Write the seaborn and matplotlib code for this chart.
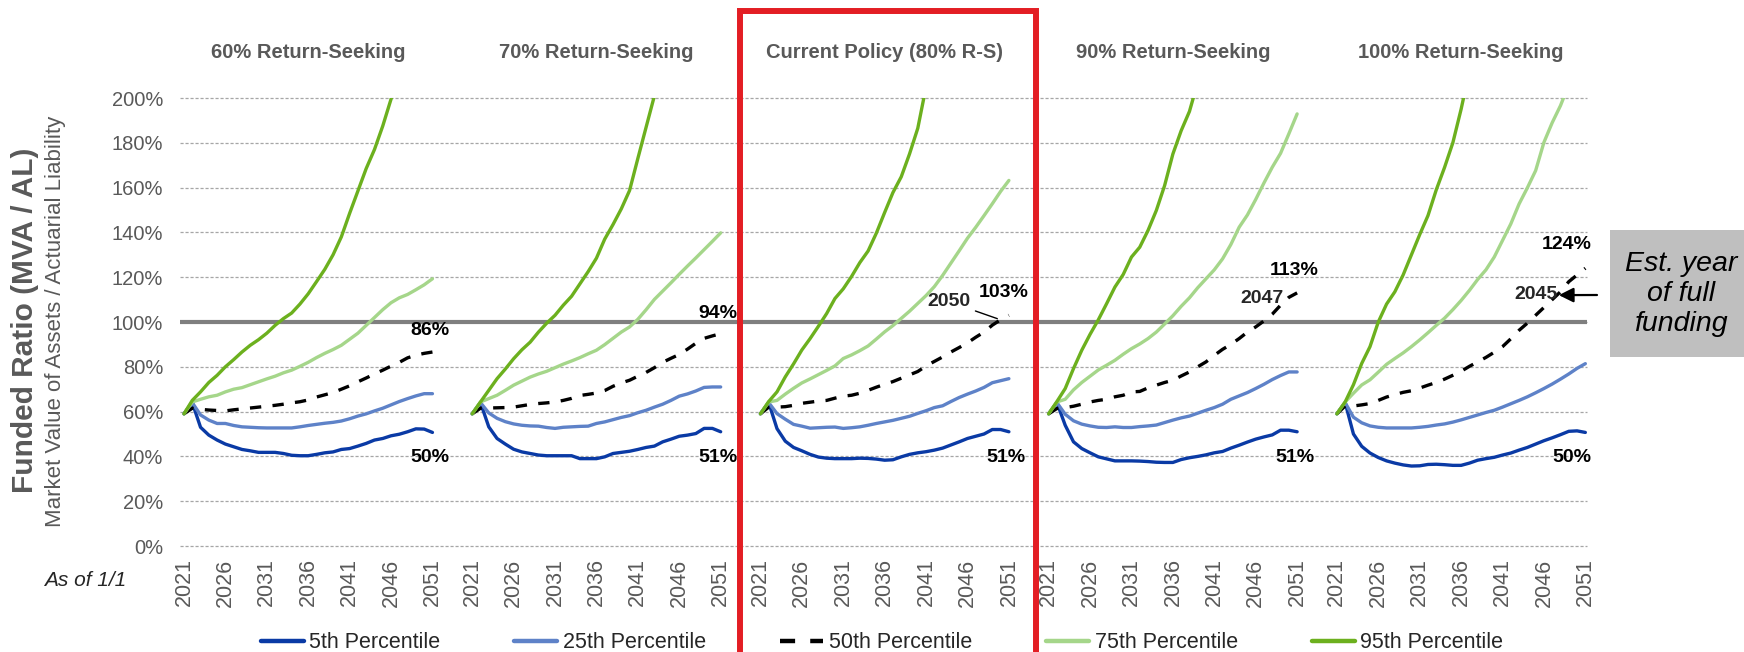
import matplotlib
matplotlib.use("Agg")
import matplotlib.pyplot as plt
from matplotlib.patches import Rectangle
import seaborn as sns
import pandas as pd

# ---- data (funded ratio, %) ----
years = list(range(2021, 2052))
panels = ["60% Return-Seeking", "70% Return-Seeking", "Current Policy (80% R-S)",
          "90% Return-Seeking", "100% Return-Seeking"]
percentiles = ["5th Percentile", "25th Percentile", "50th Percentile",
               "75th Percentile", "95th Percentile"]

rs60_5th = [59, 64, 53, 49.5, 47.3, 45.5, 44.3, 43.1, 42.5, 41.8, 41.8, 41.8, 41.3, 40.5, 40.3, 40.3,
            40.9, 41.6, 42, 43.1, 43.5, 44.6, 45.8, 47.3, 48, 49.2, 49.9, 51, 52.3, 52.2, 50.7]
rs60_25th = [59, 64, 58.5, 56.2, 54.7, 54.7, 53.8, 53.2, 53, 52.8, 52.7, 52.7, 52.7, 52.7, 53.2, 53.8,
             54.3, 54.8, 55.2, 55.8, 56.8, 58, 59, 60.3, 61.5, 63, 64.5, 65.8, 67, 68, 68]
rs60_50th = [59, 61.5, 61, 60.7, 60.5, 60.3, 60.8, 61.2, 61.6, 62, 62.4, 62.8, 63.3, 63.9, 64.4, 65.2,
             66.5, 67.5, 68.5, 70, 71.5, 73.3, 75, 76.8, 78.5, 80.3, 82, 84, 85.2, 86, 86.6]
rs60_75th = [59, 64.3, 65.5, 66.6, 67.3, 68.8, 70, 70.7, 72, 73.3, 74.6, 75.8, 77.3, 78.5, 80.2, 82,
             84.1, 86, 87.7, 89.6, 92.3, 95, 98.5, 102, 105.5, 108.6, 110.8, 112.3, 114.4, 116.6, 119.3]
rs60_95th = [59, 65, 68.8, 73, 76.2, 80, 83.2, 86.6, 89.6, 92.1, 95, 98.5, 101.5, 104, 108, 112.6,
             118, 123.5, 130, 138, 148.5, 158.5, 168.5, 177, 187.5, 199.5, 211, 223, 235, 247, 259]

rs70_5th = [59, 64, 53.2, 48, 45.5, 43.2, 42, 41.3, 40.6, 40.3, 40.3, 40.3, 40.3, 39, 39, 39,
            39.8, 41.3, 41.8, 42.3, 43.1, 44, 44.6, 46.5, 47.7, 49, 49.5, 50.2, 52.5, 52.5, 51]
rs70_25th = [59, 64, 59.4, 57, 55.5, 54.5, 53.9, 53.6, 53.5, 52.9, 52.5, 53, 53.2, 53.4, 53.5, 54.7,
             55.4, 56.4, 57.4, 58.2, 59.5, 60.6, 62, 63.3, 65, 66.9, 67.9, 69.2, 70.8, 71, 71]
rs70_50th = [59, 61.5, 61.6, 61.7, 61.8, 62, 62.6, 63.2, 63.6, 63.9, 64.3, 65, 65.9, 67.2, 67.7, 68.3,
             69.4, 71.3, 72.8, 74, 75.8, 77.5, 79.6, 82, 83.8, 85.5, 87.9, 90.5, 92.7, 93.8, 94.8]
rs70_75th = [59, 64.3, 65.8, 67.3, 69.5, 71.8, 73.6, 75.4, 76.8, 78, 79.6, 81.2, 82.6, 84.1, 85.8, 87.4,
             89.9, 92.7, 95.5, 97.8, 101.2, 105.5, 110.1, 113.8, 117.5, 121.3, 125, 128.6, 132.3, 136, 139.8]
rs70_95th = [59, 64.3, 69.5, 74.7, 79, 83.6, 87.6, 91, 95.5, 99.5, 103, 107.5, 111.5, 117, 122.5, 128.5,
             137, 143.5, 150.5, 158.7, 173, 187, 201, 215, 229, 243, 257, 271, 285, 299, 313]

rs80_5th = [59, 64, 52.4, 46.8, 44, 42.5, 40.9, 39.7, 39.2, 39, 39, 39, 39.2, 39.1, 38.8, 38.3,
            38.5, 39.8, 40.9, 41.6, 42.1, 42.8, 43.7, 45.1, 46.5, 48, 49, 50, 52, 52, 51]
rs80_25th = [59, 64, 59.1, 56.6, 54.3, 53.5, 52.6, 52.8, 53, 53.1, 52.5, 52.8, 53.2, 53.9, 54.7, 55.4,
             56.1, 57, 57.9, 59.2, 60.4, 61.8, 62.6, 64.5, 66.3, 67.8, 69.2, 70.8, 72.9, 73.8, 74.7]
rs80_50th = [59, 62, 62, 62.2, 62.8, 63.7, 64.2, 64.7, 65, 66, 66.9, 67.3, 68.2, 69.5, 70.9, 72.2,
             73.4, 74.9, 76.4, 77.9, 80.4, 82.4, 84.4, 86.6, 88.6, 90.7, 93.2, 95.5, 98.6, 101, 103]
rs80_75th = [59, 64.3, 65, 67.8, 70.4, 72.8, 74.6, 76.5, 78.4, 80.4, 83.7, 85.3, 87.2, 89.3, 92.4, 95.6,
             98.4, 101.6, 104.8, 108.3, 111.8, 115.8, 120.8, 126.3, 131.8, 137.4, 142.3, 147.5, 152.8, 158.3, 163.2]
rs80_95th = [59, 64.5, 68.8, 75.5, 81.3, 87.5, 92.6, 98.1, 103.8, 110.5, 114.8, 120.3, 126.5, 131.7, 139.7, 148.9,
             157.8, 164.8, 175, 186.5, 205, 221, 237, 253, 269, 285, 301, 317, 333, 349, 365]

rs90_5th = [59, 64, 53.9, 46.5, 43.5, 41.6, 39.8, 38.9, 38, 38, 38, 37.9, 37.7, 37.4, 37.3, 37.3,
            38.6, 39.4, 40, 40.7, 41.6, 42.2, 43.7, 45, 46.4, 47.7, 48.7, 49.6, 51.7, 51.7, 51]
rs90_25th = [59, 64, 58.8, 55.9, 54.4, 53.6, 53, 52.9, 53.2, 52.9, 52.9, 53.3, 53.6, 54, 55.1, 56.2,
             57.2, 58, 59.3, 60.6, 61.8, 63.3, 65.5, 67, 68.5, 70.3, 72.2, 74.3, 76.1, 77.7, 77.7]
rs90_50th = [59, 61.4, 61.8, 62.4, 63.3, 64.3, 65, 65.5, 66.6, 67.3, 68.8, 69, 70.6, 71.8, 73, 74,
             75.9, 77.7, 80, 82.2, 85.1, 87.8, 90, 92.6, 95.5, 97.8, 100.5, 103.5, 107.5, 111, 113]
rs90_75th = [59, 64.3, 65.5, 69.7, 73, 75.8, 78.6, 80.7, 82.9, 85.6, 88.1, 90.2, 92.6, 95.5, 99.1, 102.8,
             107, 110.8, 115.3, 119.3, 123.3, 128.2, 134.6, 142.3, 147.8, 154.7, 162.1, 169.1, 175.3, 184, 192.9]
rs90_95th = [59, 64.5, 70.3, 79.2, 87.4, 94.5, 101, 108.2, 115.6, 121.2, 129, 133.4, 140.9, 149.8, 160.9, 175,
             185.4, 194, 207, 221, 235, 249, 263, 277, 291, 305, 319, 333, 347, 361, 375]

rs100_5th = [59, 64, 50, 44.5, 41.5, 39.5, 38, 37, 36.2, 35.7, 35.8, 36.4, 36.5, 36.3, 36, 36,
             37, 38.3, 39, 39.6, 40.6, 41.5, 42.8, 44, 45.5, 47, 48.3, 49.7, 51.2, 51.4, 50.7]
rs100_25th = [59, 64, 57.5, 55, 53.6, 53, 52.7, 52.7, 52.7, 52.7, 53, 53.4, 54, 54.5, 55.3, 56.3,
              57.4, 58.5, 59.6, 60.6, 62, 63.5, 65, 66.6, 68.4, 70.3, 72.3, 74.5, 76.8, 79.3, 81.4]
rs100_50th = [59, 62.5, 62.5, 63, 63.6, 65, 66.5, 67.6, 68.6, 69.3, 70.5, 71.8, 73, 74.5, 76.2, 78,
              80.2, 82.2, 84.2, 86.5, 89, 92.5, 96.3, 99.5, 103, 106.5, 110, 113.5, 118, 121, 124]
rs100_75th = [59, 64.3, 68.2, 71.9, 74.2, 77.6, 81.1, 83.7, 86.2, 89, 92, 95.2, 98.5, 101.7, 105.5, 109.6,
              114.1, 119, 123.3, 129, 136.4, 143.8, 152.7, 159.9, 167.6, 180.2, 189, 196.6, 206, 215, 224]
rs100_95th = [59, 64.3, 72, 81.5, 89, 100, 108, 113.5, 121, 130, 139, 147.5, 159, 169, 180, 195,
              212, 230, 248, 266, 284, 302, 320, 338, 356, 374, 392, 410, 428, 446, 464]

end_top = ["86%", "94%", "103%", "113%", "124%"]
end_bottom = ["50%", "51%", "51%", "51%", "50%"]
tick_years = [2021, 2026, 2031, 2036, 2041, 2046, 2051]

series_by_panel = [
    [rs60_5th, rs60_25th, rs60_50th, rs60_75th, rs60_95th],
    [rs70_5th, rs70_25th, rs70_50th, rs70_75th, rs70_95th],
    [rs80_5th, rs80_25th, rs80_50th, rs80_75th, rs80_95th],
    [rs90_5th, rs90_25th, rs90_50th, rs90_75th, rs90_95th],
    [rs100_5th, rs100_25th, rs100_50th, rs100_75th, rs100_95th],
]

# panels sit side by side on one axis, separated by a few empty year slots
STEP = 34.8


def xpos(panel_idx, year):
    return panel_idx * STEP + (year - years[0])


rows = []
for p, (panel, group) in enumerate(zip(panels, series_by_panel)):
    for name, vals in zip(percentiles, group):
        for yr, v in zip(years, vals):
            rows.append({"panel": panel, "series": name, "year": yr,
                         "x": xpos(p, yr), "value": v})
df = pd.DataFrame(rows)

colors = {"5th Percentile": "#0A3AA5", "25th Percentile": "#5E82C8",
          "50th Percentile": "black", "75th Percentile": "#A5D68A",
          "95th Percentile": "#6CB01E"}
dash_map = {"5th Percentile": "", "25th Percentile": "",
            "50th Percentile": (3.4, 3.4), "75th Percentile": "",
            "95th Percentile": ""}

sns.set_style("white")
plt.rcParams["font.family"] = ["Liberation Sans", "DejaVu Sans"]

W, H = 1744, 652
fig = plt.figure(figsize=(W / 100, H / 100), dpi=100)
ax = fig.add_axes([180 / W, 106 / H, 1407 / W, 448 / H])

sns.lineplot(data=df, x="x", y="value", hue="series", style="series",
             units="panel", estimator=None, sort=False,
             hue_order=percentiles, style_order=percentiles,
             palette=colors, dashes=dash_map, linewidth=2.4, ax=ax)

ax.set_xlim(-0.48, 169.4)
ax.set_ylim(0, 200)
sns.despine(ax=ax, left=True, bottom=True)

ax.set_yticks(range(0, 201, 20))
ax.set_yticklabels([f"{v}%" for v in range(0, 201, 20)])
ax.yaxis.grid(True, linestyle=(0, (2.5, 1.5)), color="#A6A6A6", linewidth=0.9)
ax.xaxis.grid(False)
for gl in ax.get_ygridlines():
    gl.set_clip_on(False)
ax.axhline(100, color="#7F7F7F", linewidth=3, zorder=1.8)

xt = [xpos(p, y) for p in range(len(panels)) for y in tick_years]
ax.set_xticks(xt)
ax.set_xticklabels([str(y) for p in range(len(panels)) for y in tick_years], rotation=90)
ax.tick_params(axis="y", length=0, pad=12, labelsize=14.5, labelcolor="#595959")
ax.tick_params(axis="x", length=0, pad=9, labelsize=15.5, labelcolor="#595959")
ax.set_xlabel("")
ax.set_ylabel("")

# panel titles and end-of-line labels
top_off = [29.7, 29.7, 29.4, 29.7, 27.8]
top_y = [96, 104, 113, 123, 134.4]
bot_off = [29.7, 29.7, 29.6, 29.7, 28.4]
for p, title in enumerate(panels):
    ax.text(xpos(p, 2036), 220.5, title, ha="center", va="center",
            fontsize=14.5, fontweight="bold", color="#595959", clip_on=False)
    ax.text(p * STEP + top_off[p], top_y[p], end_top[p], ha="center", va="center",
            fontsize=14, fontweight="bold", color="black")
    ax.text(p * STEP + bot_off[p], 39.3, end_bottom[p], ha="center", va="center",
            fontsize=14, fontweight="bold", color="black")

# estimated years of full funding
ax.annotate("2050", xy=(xpos(2, 2049.6), 101.5), xytext=(xpos(2, 2043.8), 109),
            ha="center", va="center", fontsize=14, fontweight="bold",
            arrowprops=dict(arrowstyle="-", color="black", lw=1,
                            shrinkA=1, shrinkB=0))
ax.text(xpos(3, 2046.7), 110.7, "2047", ha="center", va="center",
        fontsize=14, fontweight="bold")
ax.text(xpos(4, 2045.0), 112.3, "2045", ha="center", va="center",
        fontsize=14, fontweight="bold")
ax.annotate("", xy=(xpos(4, 2047.8), 112), xytext=(1597 / W, 1 - 295 / H),
            textcoords="figure fraction", annotation_clip=False,
            arrowprops=dict(arrowstyle="-|>", color="black", lw=1.6,
                            mutation_scale=22, shrinkA=0, shrinkB=0))

fig.add_artist(Rectangle((1610 / W, 1 - 357 / H), 140 / W, 127 / H,
                         transform=fig.transFigure, facecolor="#BFBFBF",
                         edgecolor="none"))
fig.text(1681 / W, 1 - 294 / H, "Est. year\nof full\nfunding", ha="center",
         va="center", fontsize=20.5, style="italic", linespacing=1.2, color="black")

# highlight current policy
fig.add_artist(Rectangle((739.5 / W, -0.05), 296 / W, 1.05 - 11 / H,
                         transform=fig.transFigure, fill=False,
                         edgecolor="#E31E24", linewidth=4.3, clip_on=False))

# axis titles
fig.text(25 / W, 1 - 320 / H, "Funded Ratio (MVA / AL)", rotation=90,
         ha="center", va="center", fontsize=21.5, fontweight="bold", color="#595959")
fig.text(55 / W, 1 - 321 / H, "Market Value of Assets / Actuarial Liability",
         rotation=90, ha="center", va="center", fontsize=16, color="#595959")
fig.text(85 / W, 1 - 580 / H, "As of 1/1", ha="center", va="center",
         fontsize=15, style="italic", color="#262626")

# legend along the bottom
handles, labels = ax.get_legend_handles_labels()
ax.get_legend().remove()
for h in handles:
    h.set_linewidth(3.2)
fig.legend(handles, labels, loc="center", bbox_to_anchor=(882 / W, 1 - 643 / H),
           ncol=5, frameon=False, fontsize=15.5, handlelength=2.0,
           handletextpad=0.25, columnspacing=3.45)

fig.savefig("out.png", dpi=100)
